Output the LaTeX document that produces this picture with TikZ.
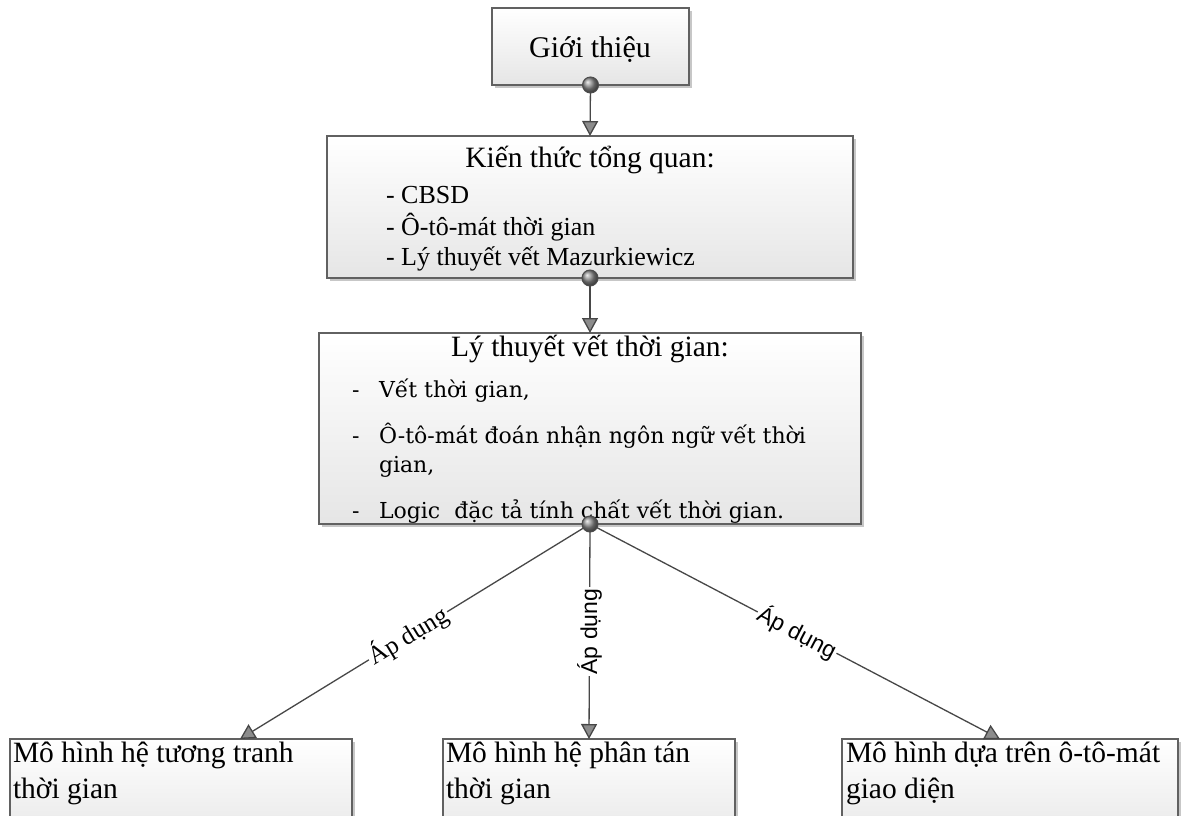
\documentclass[tikz,border=0pt]{standalone}
\usepackage{fontspec}
\setmainfont{Liberation Serif}
\newfontfamily\itemfont{DejaVu Serif}
\newfontfamily\tagfont{Liberation Sans}
\usetikzlibrary{shadows,arrows.meta,calc}

\tikzset{
  panel/.style={draw=black!62, line width=1.1pt, top color=white, bottom color=black!10,
    inner sep=0pt, outer sep=0pt, anchor=north west,
    drop shadow={shadow xshift=3pt, shadow yshift=-3pt, fill=black!40, opacity=0.55}},
  txt/.style={inner sep=0pt, outer sep=0pt, text=black},
  title/.style={txt, anchor=base, font=\fontsize{29.5}{35}\selectfont},
  listA/.style={txt, anchor=base west, font=\fontsize{26}{31}\selectfont},
  listB/.style={txt, anchor=base west, font=\itemfont\fontsize{22}{27}\selectfont},
  leaf/.style={txt, anchor=base west, font=\fontsize{29.5}{35}\selectfont},
  joint/.style={circle, draw=black!70, line width=1pt, ball color=black!45,
    minimum size=16pt, inner sep=0pt, outer sep=0pt},
  conn/.style={draw=black!72, line width=1.3pt,
    -{Triangle[length=15pt,width=16pt,fill=black!45]}},
  tag/.style={fill=white, inner sep=1.5pt, text=black},
}

\begin{document}
\begin{tikzpicture}[x=1pt,y=-1pt]
\useasboundingbox (0,0) rectangle (1186,816);
\fill[white] (0,0) rectangle (1186,816);
\clip (0,0) rectangle (1186,816);

% boxes
\node[panel, minimum width=197pt, minimum height=77pt]  (box1) at (492,8)   {};
\node[panel, minimum width=526pt, minimum height=142pt] (box2) at (327,136) {};
\node[panel, minimum width=542pt, minimum height=191pt] (box3) at (319,333) {};
\node[panel, minimum width=342pt, minimum height=110pt] (boxL) at (10,739)  {};
\node[panel, minimum width=292pt, minimum height=110pt] (boxM) at (443,739) {};
\node[panel, minimum width=336pt, minimum height=110pt] (boxR) at (842,739) {};

% texts
\node[txt, anchor=base, font=\fontsize{30}{36}\selectfont] (t1) at (590,58) {Giới thiệu};

\node[title] (t2) at (590,167) {Kiến thức tổng quan:};
\node[listA] (t2a) at (386,203) {- CBSD};
\node[listA] (t2b) at (386,235) {- Ô-tô-mát thời gian};
\node[listA] (t2c) at (386,265) {- Lý thuyết vết Mazurkiewicz};

\node[title] (t3) at (590,356) {Lý thuyết vết thời gian:};
\node[listB] (d3a) at (352,397) {-};
\node[listB] (t3a) at (379,397) {Vết thời gian,};
\node[listB] (d3b) at (352,443) {-};
\node[listB] (t3b) at (379,443) {Ô-tô-mát đoán nhận ngôn ngữ vết thời};
\node[listB] (t3c) at (379,472) {gian,};
\node[listB] (d3d) at (352,518) {-};
\node[listB] (t3d) at (379,518) {Logic\ \ đặc tả tính chất vết thời gian.};

\node[leaf] (tLa) at (13,762)  {Mô hình hệ tương tranh};
\node[leaf] (tLb) at (13,798)  {thời gian};
\node[leaf] (tMa) at (446,762) {Mô hình hệ phân tán};
\node[leaf] (tMb) at (446,798) {thời gian};
\node[leaf] (tRa) at (846,762) {Mô hình dựa trên ô-tô-mát};
\node[leaf] (tRb) at (846,798) {giao diện};

% junctions on the lower edges
\coordinate (j1c) at (box1.south);
\coordinate (j2c) at (box2.south);
\coordinate (j3c) at (box3.south);
\coordinate (tL) at ($(boxL.north west)+(230,0)$);
\coordinate (tR) at ($(boxR.north west)+(158,0)$);

% connectors
\draw[conn] (j1c) -- (box2.north);
\draw[conn] (j2c) -- (box3.north);
\draw[conn] (j3c) -- node[tag, pos=0.52, rotate=31.4, font=\fontsize{25.5}{30}\selectfont] (lab1) {Áp dụng} (tL);
\draw[conn] (j3c) -- node[tag, pos=0.5, rotate=90, font=\tagfont\fontsize{23}{27}\selectfont] (lab2) {Áp dụng} (boxM.north);
\draw[conn] (j3c) -- node[tag, pos=0.505, rotate=-27.6, font=\tagfont\fontsize{23}{27}\selectfont] (lab3) {Áp dụng} (tR);

\node[joint] (j1) at (j1c) {};
\node[joint] (j2) at (j2c) {};
\node[joint] (j3) at (j3c) {};
\end{tikzpicture}
\end{document}
